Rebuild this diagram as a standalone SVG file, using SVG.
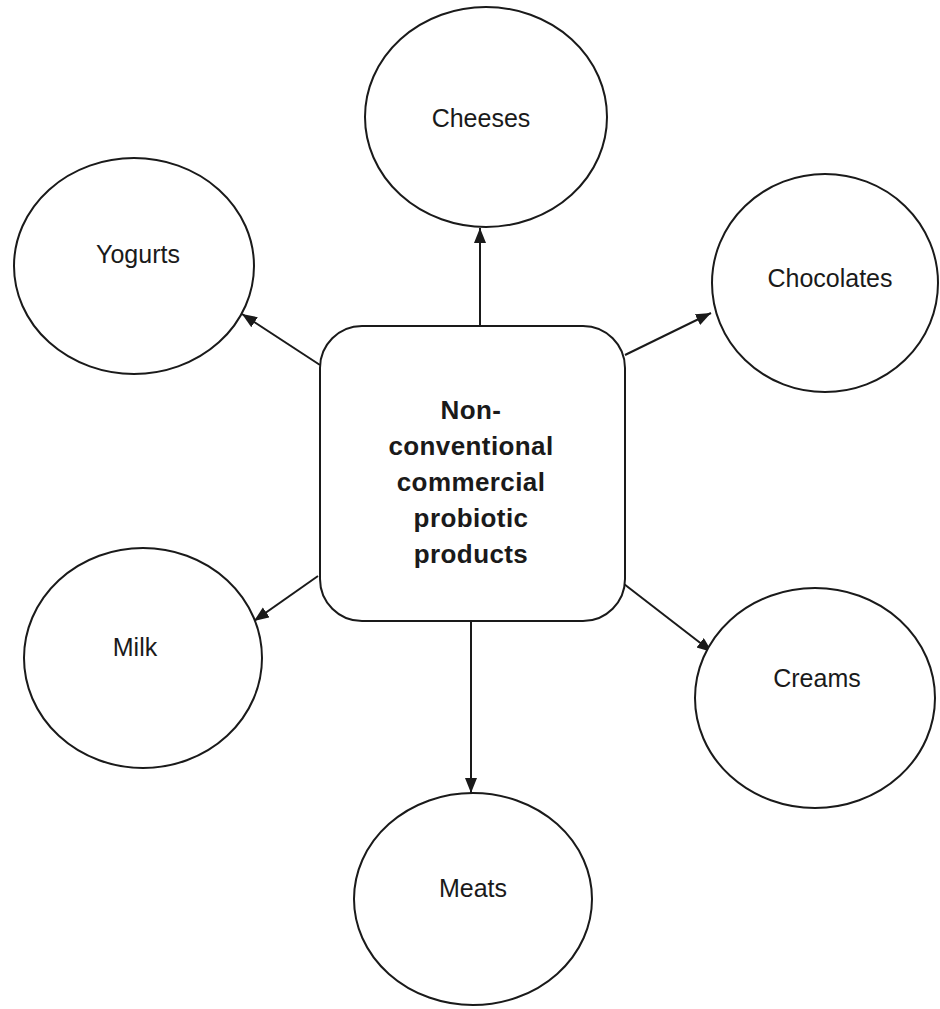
<svg xmlns="http://www.w3.org/2000/svg" width="940" height="1009" viewBox="0 0 940 1009">
<style>
.n{fill:#fff;stroke:#1a1a1a;stroke-width:2}
.t{font-family:"Liberation Sans",Arial,sans-serif;font-size:25px;fill:#1a1a1a;text-anchor:middle}
.b{font-family:"Liberation Sans",Arial,sans-serif;font-size:26px;font-weight:bold;letter-spacing:0.4px;fill:#1a1a1a;text-anchor:middle}
.c{stroke:#1a1a1a;stroke-width:2;fill:none;marker-end:url(#ah)}
</style>
<defs>
<marker id="ah" markerUnits="userSpaceOnUse" markerWidth="16" markerHeight="14" refX="15" refY="6" orient="auto">
<path d="M0,0 L15,6 L0,12 Z" fill="#1a1a1a"/>
</marker>
</defs>
<rect width="940" height="1009" fill="#fff"/>
<g id="connectors">
<line class="c" x1="480" y1="326" x2="480" y2="228"/>
<line class="c" x1="320" y1="365" x2="242" y2="314"/>
<line class="c" x1="625" y1="355" x2="711" y2="313"/>
<line class="c" x1="318" y1="576" x2="254" y2="621"/>
<line class="c" x1="624" y1="584" x2="712" y2="652"/>
<line class="c" x1="471" y1="621" x2="471" y2="793"/>
</g>
<g id="center">
<rect class="n" x="320" y="326" width="305" height="295" rx="42" ry="42"/>
<text class="b" x="471" y="419">Non-</text>
<text class="b" x="471" y="455">conventional</text>
<text class="b" x="471" y="491">commercial</text>
<text class="b" x="471" y="527">probiotic</text>
<text class="b" x="471" y="563">products</text>
</g>
<g id="cheeses">
<ellipse class="n" cx="486" cy="117" rx="121" ry="110"/>
<text class="t" x="481" y="127">Cheeses</text>
</g>
<g id="yogurts">
<ellipse class="n" cx="134" cy="266" rx="120" ry="108"/>
<text class="t" x="138" y="263">Yogurts</text>
</g>
<g id="chocolates">
<ellipse class="n" cx="825" cy="283" rx="113" ry="109"/>
<text class="t" x="830" y="287">Chocolates</text>
</g>
<g id="milk">
<ellipse class="n" cx="143" cy="658" rx="119" ry="110"/>
<text class="t" x="135" y="656">Milk</text>
</g>
<g id="creams">
<ellipse class="n" cx="815" cy="698" rx="120" ry="110"/>
<text class="t" x="817" y="687">Creams</text>
</g>
<g id="meats">
<ellipse class="n" cx="473" cy="899" rx="119" ry="106"/>
<text class="t" x="473" y="897">Meats</text>
</g>
</svg>
